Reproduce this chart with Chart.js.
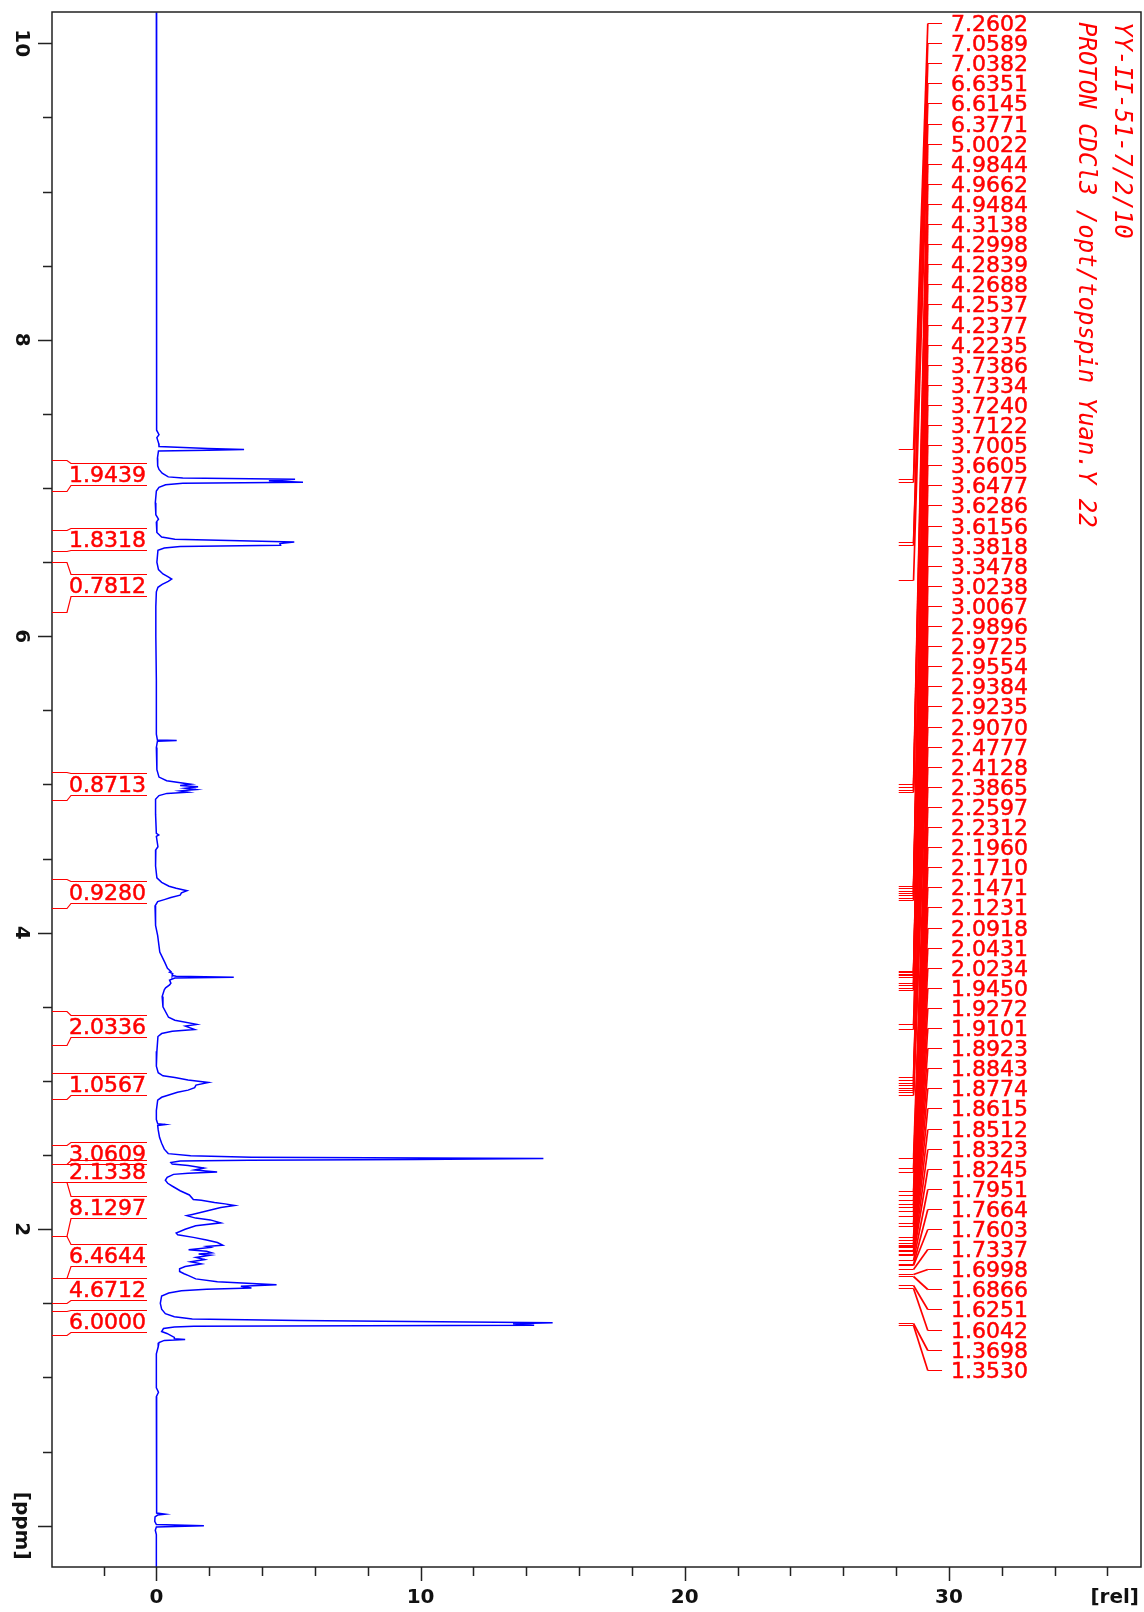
<!DOCTYPE html>
<html>
<head>
<meta charset="utf-8">
<script src="https://cdn.jsdelivr.net/npm/chart.js@4.4.1/dist/chart.umd.min.js"></script>
<style>
  html, body { margin: 0; padding: 0; background: #fff; }
  canvas { display: block; }
</style>
</head>
<body>
<canvas id="nmrChart" width="1144" height="1612"></canvas>
<script>
// spectrum trace: chemical shift (ppm) and intensity (rel)
const shiftPpm = [
  10.21, 7.45, 7.39, 7.36, 7.34, 7.30, 7.28, 7.266, 7.2602, 7.255, 7.25, 7.20, 7.15, 7.125, 7.10,
  7.075, 7.067, 7.0589, 7.049, 7.0382, 7.032, 7.022, 7.005, 6.98, 6.90, 6.82, 6.79, 6.77, 6.70,
  6.67, 6.655, 6.6351, 6.625, 6.6145, 6.605, 6.595, 6.58, 6.50, 6.45, 6.42, 6.40, 6.386, 6.37,
  6.35, 6.33, 6.30, 6.20, 6.00, 5.70, 5.34, 5.30, 5.296, 5.292, 5.25, 5.10, 5.05, 5.025, 5.0022,
  4.993, 4.9844, 4.975, 4.9662, 4.957, 4.9484, 4.94, 4.925, 4.90, 4.80, 4.67, 4.66, 4.65, 4.58,
  4.56, 4.45, 4.37, 4.34, 4.3138, 4.2998, 4.2839, 4.2688, 4.2537, 4.2377, 4.2235, 4.21, 4.18,
  4.05, 3.98, 3.87, 3.80, 3.76, 3.7386, 3.7334, 3.7240, 3.7122, 3.706, 3.7005, 3.695, 3.68,
  3.6605, 3.6477, 3.6286, 3.6156, 3.57, 3.50, 3.43, 3.41, 3.3818, 3.37, 3.3478, 3.335, 3.32,
  3.30, 3.20, 3.10, 3.056, 3.035, 3.0238, 3.0067, 2.9896, 2.9725, 2.9554, 2.9384, 2.9235, 2.9070,
  2.89, 2.87, 2.80, 2.74, 2.712, 2.706, 2.70, 2.67, 2.62, 2.58, 2.54, 2.51, 2.495, 2.486, 2.4777,
  2.471, 2.466, 2.46, 2.45, 2.44, 2.43, 2.4128, 2.40, 2.3865, 2.378, 2.37, 2.35, 2.33, 2.31, 2.29,
  2.2597, 2.2312, 2.20, 2.1960, 2.18, 2.1710, 2.16, 2.1471, 2.1231, 2.10, 2.0918, 2.075, 2.063,
  2.0431, 2.0234, 2.00, 1.975, 1.962, 1.9450, 1.9272, 1.9101, 1.8923, 1.8843, 1.8774, 1.8615,
  1.8512, 1.84, 1.8323, 1.8245, 1.81, 1.7951, 1.78, 1.7664, 1.7603, 1.748, 1.7337, 1.715, 1.6998,
  1.6866, 1.665, 1.645, 1.6251, 1.615, 1.6042, 1.595, 1.585, 1.57, 1.55, 1.50, 1.46, 1.43, 1.41,
  1.395, 1.385, 1.3698, 1.362, 1.3530, 1.346, 1.34, 1.33, 1.31, 1.297, 1.27, 1.262, 1.256, 1.25,
  1.235, 1.207, 1.16, 1.00, 0.93, 0.90, 0.87, 0.10, 0.085, 0.078, 0.072, 0.06, 0.03, 0.008, 0.0,
  -0.008, -0.03, -0.06, -0.28
];
const intensity = [
  0, 0, 0.02, 0.1, 0.02, 0.09, 0.1, 1.95, 3.32, 1.95, 0.08, 0.04, 0.05, 0.1, 0.22,
  0.45, 1.0, 5.25, 4.26, 5.55, 1.0, 0.35, 0.1, 0.0, -0.04, -0.02, 0.08, 0.0, 0.02,
  0.2, 0.7, 5.22, 4.68, 4.7, 0.9, 0.3, 0.06, 0.02, 0.08, 0.25, 0.45, 0.58, 0.45,
  0.22, 0.06, 0.0, -0.02, -0.02, 0.0, 0.0, 0.04, 0.77, 0.04, 0.0, 0.02, 0.1, 0.39, 1.3,
  0.9, 1.58, 1.1, 1.5, 0.9, 1.2, 0.4, 0.1, -0.03, -0.03, 0.0, 0.09, 0.0, 0.06,
  -0.02, -0.03, 0.02, 0.2, 0.48, 0.75, 1.16, 0.95, 0.9, 0.55, 0.3, 0.05, -0.05,
  -0.03, 0.05, 0.13, 0.32, 0.42, 0.55, 0.5, 0.62, 0.6, 0.75, 2.93, 0.7, 0.5,
  0.55, 0.5, 0.35, 0.3, 0.22, 0.25, 0.46, 0.7, 1.53, 1.1, 1.45, 0.6, 0.2,
  0.06, 0.02, 0.0, 0.07, 0.25, 0.7, 1.2, 1.97, 1.5, 1.45, 1.2, 0.8, 0.5,
  0.2, 0.05, 0.0, 0.0, 0.05, 0.34, 0.05, 0.07, 0.12, 0.2, 0.3, 0.45, 1.3, 3.6, 14.65,
  9.8, 3.5, 0.9, 0.55, 0.6, 1.2, 1.8, 1.45, 2.3, 1.2, 0.65, 0.41, 0.34, 0.43, 0.61,
  0.9, 1.25, 1.4, 1.7, 2.2, 2.6, 2.96, 2.44, 1.9, 1.36, 1.15, 1.49, 2.04,
  2.44, 1.49, 1.09, 0.75, 0.81, 1.4, 1.9, 2.31, 2.51, 1.9, 2.04, 1.22,
  1.9, 2.1, 1.6, 2.04, 1.5, 1.83, 1.3, 1.7, 1.5, 1.09, 0.88, 0.88, 1.05,
  1.22, 1.49, 2.31, 4.55, 3.2, 3.6, 1.9, 0.95, 0.47, 0.2, 0.15, 0.2, 0.34, 0.68,
  1.36, 5.4, 15.0, 13.5, 14.3, 1.42, 0.68, 0.27, 0.2, 0.4, 0.68, 0.68, 1.09, 0.3,
  0.1, 0.07, 0.0, 0.0, 0.0, 0.08, 0.0, 0.0, 0.02, 0.33, 0.05, -0.05, -0.06, 0.0, 1.8,
  0.0, -0.04, 0.0, 0.0
];

// picked peaks (ppm)
const peakShifts = [
  7.2602, 7.0589, 7.0382, 6.6351, 6.6145, 6.3771, 5.0022, 4.9844, 4.9662, 4.9484,
  4.3138, 4.2998, 4.2839, 4.2688, 4.2537, 4.2377, 4.2235, 3.7386, 3.7334, 3.7240,
  3.7122, 3.7005, 3.6605, 3.6477, 3.6286, 3.6156, 3.3818, 3.3478, 3.0238, 3.0067,
  2.9896, 2.9725, 2.9554, 2.9384, 2.9235, 2.9070, 2.4777, 2.4128, 2.3865, 2.2597,
  2.2312, 2.1960, 2.1710, 2.1471, 2.1231, 2.0918, 2.0431, 2.0234, 1.9450, 1.9272,
  1.9101, 1.8923, 1.8843, 1.8774, 1.8615, 1.8512, 1.8323, 1.8245, 1.7951, 1.7664,
  1.7603, 1.7337, 1.6998, 1.6866, 1.6251, 1.6042, 1.3698, 1.3530
];

// integral regions (ppm) and their values
const integralFrom = [7.192, 6.720, 6.499, 5.085, 4.363, 3.470, 3.054, 2.567, 2.443, 2.317, 1.953, 1.674, 1.449];
const integralTo   = [6.980, 6.573, 6.162, 4.894, 4.170, 3.246, 2.881, 2.443, 2.317, 1.953, 1.674, 1.503, 1.285];
const integralValues = ['1.9439', '1.8318', '0.7812', '0.8713', '0.9280', '2.0336', '1.0567',
                        '3.0609', '2.1338', '8.1297', '6.4644', '4.6712', '6.0000'];

const relLabels = [0, 10, 20, 30];
const ppmLabels = [10, 8, 6, 4, 2];
const titleLines = ['YY-II-51-7/2/10', 'PROTON CDCl3 /opt/topspin Yuan.Y 22'];

const RED = '#ff0000';
const AXIS = '#222';

function rotatedText(ctx, text, x, y, align) {
  ctx.save();
  ctx.translate(x, y);
  ctx.rotate(Math.PI / 2);
  ctx.textAlign = align;
  ctx.textBaseline = 'middle';
  ctx.fillText(text, 0, 0);
  ctx.restore();
}

// red numbers look a bit heavier than plain DejaVu
function heavyText(ctx, text, x, y) {
  ctx.fillText(text, x, y);
  ctx.lineWidth = 0.5;
  ctx.strokeText(text, x, y);
}

const decor = {
  id: 'decor',
  afterDraw(chart) {
    const ctx = chart.ctx;
    const area = chart.chartArea;
    const xs = chart.scales.x;
    const ys = chart.scales.y;
    ctx.save();

    // frame
    ctx.strokeStyle = AXIS;
    ctx.lineWidth = 1.5;
    ctx.strokeRect(area.left, area.top, area.right - area.left, area.bottom - area.top);

    // y ticks, every 0.5 ppm, longer every 2
    ctx.beginPath();
    ys.ticks.forEach(t => {
      const v = t.value;
      if (v < ys.min || v > ys.max) return;
      const py = Math.round(ys.getPixelForValue(v)) + 0.5;
      const len = Math.abs(v % 2) < 1e-6 ? 14 : 9;
      ctx.moveTo(area.left - len, py);
      ctx.lineTo(area.left, py);
    });
    // x ticks, every 2, longer every 10
    xs.ticks.forEach(t => {
      const v = t.value;
      if (v < xs.min || v > xs.max) return;
      const px = Math.round(xs.getPixelForValue(v)) + 0.5;
      const len = Math.abs(v % 10) < 1e-6 ? 14 : 9;
      ctx.moveTo(px, area.bottom);
      ctx.lineTo(px, area.bottom + len);
    });
    ctx.stroke();

    // axis labels
    ctx.fillStyle = '#111';
    ctx.font = 'bold 20px "DejaVu Sans"';
    ppmLabels.forEach(v => rotatedText(ctx, String(v), 21, ys.getPixelForValue(v), 'center'));
    rotatedText(ctx, '[ppm]', 21, ys.getPixelForValue(0), 'center');
    ctx.textBaseline = 'middle';
    ctx.textAlign = 'center';
    relLabels.forEach(v => ctx.fillText(String(v), xs.getPixelForValue(v), area.bottom + 31));
    ctx.textAlign = 'right';
    ctx.fillText('[rel]', area.right - 2, area.bottom + 31);

    // integrals
    ctx.strokeStyle = RED;
    ctx.fillStyle = RED;
    ctx.font = '22px "DejaVu Sans"';
    ctx.textBaseline = 'alphabetic';
    ctx.textAlign = 'right';
    const x0 = area.left, x1 = area.left + 15, x2 = area.left + 19, x3 = area.left + 95;
    integralFrom.forEach((from, i) => {
      const yTop = Math.round(ys.getPixelForValue(from)) + 0.5;
      const yBot = Math.round(ys.getPixelForValue(integralTo[i])) + 0.5;
      const mid = (yTop + yBot) / 2 - 2.5;
      const bt = Math.round(mid - 11) + 0.5, bb = Math.round(mid + 11) + 0.5;
      ctx.lineWidth = 1.2;
      ctx.beginPath();
      ctx.moveTo(x0, yTop); ctx.lineTo(x1, yTop); ctx.lineTo(x2, bt); ctx.lineTo(x3, bt);
      ctx.moveTo(x3, bb); ctx.lineTo(x2, bb); ctx.lineTo(x1, yBot); ctx.lineTo(x0, yBot);
      ctx.stroke();
      heavyText(ctx, integralValues[i], x3 - 1, mid + 8);
    });

    // peak picking labels: tick at the peak, slanted leader, short stub, value
    ctx.textAlign = 'left';
    const labelTop = area.top + 11, labelStep = 20.1;
    const xa = xs.getPixelForValue(28.1), xb = xs.getPixelForValue(28.66);
    const xc = xs.getPixelForValue(29.2), xd = xs.getPixelForValue(29.74);
    peakShifts.forEach((p, i) => {
      const yp = Math.round(ys.getPixelForValue(p)) + 0.5;
      const yl = Math.round(labelTop + i * labelStep) + 0.5;
      ctx.lineWidth = 1;
      ctx.beginPath();
      ctx.moveTo(xa, yp); ctx.lineTo(xb, yp);
      ctx.moveTo(xc, yl); ctx.lineTo(xd, yl);
      ctx.stroke();
      ctx.lineWidth = 1.7;
      ctx.beginPath();
      ctx.moveTo(xb, yp); ctx.lineTo(xc, yl);
      ctx.stroke();
      heavyText(ctx, p.toFixed(4), xd + 9, yl + 7.5);
    });

    // experiment title
    ctx.font = 'italic 24px "DejaVu Sans Mono"';
    rotatedText(ctx, titleLines[0], 1121, area.top + 10, 'left');
    rotatedText(ctx, titleLines[1], 1085, area.top + 10, 'left');

    ctx.restore();
  }
};

new Chart(document.getElementById('nmrChart'), {
  type: 'scatter',
  data: {
    datasets: [{
      data: shiftPpm.map((p, i) => ({ x: intensity[i], y: p })),
      showLine: true,
      borderColor: '#0000ff',
      borderWidth: 1.5,
      pointRadius: 0,
      tension: 0,
      fill: false
    }]
  },
  options: {
    responsive: false,
    animation: false,
    devicePixelRatio: 1,
    layout: { padding: { top: 12, right: 3, left: 0, bottom: 0 } },
    plugins: { legend: { display: false }, tooltip: { enabled: false } },
    scales: {
      x: {
        type: 'linear', min: -3.95, max: 37.27,
        ticks: { display: false, stepSize: 2, includeBounds: false },
        grid: { display: false, drawTicks: false },
        border: { display: false },
        afterFit(scale) { scale.height = 45; }
      },
      y: {
        type: 'linear', min: -0.2785, max: 10.211,
        ticks: { display: false, stepSize: 0.5, includeBounds: false },
        grid: { display: false, drawTicks: false },
        border: { display: false },
        afterFit(scale) { scale.width = 52; }
      }
    }
  },
  plugins: [decor]
});
</script>
</body>
</html>
